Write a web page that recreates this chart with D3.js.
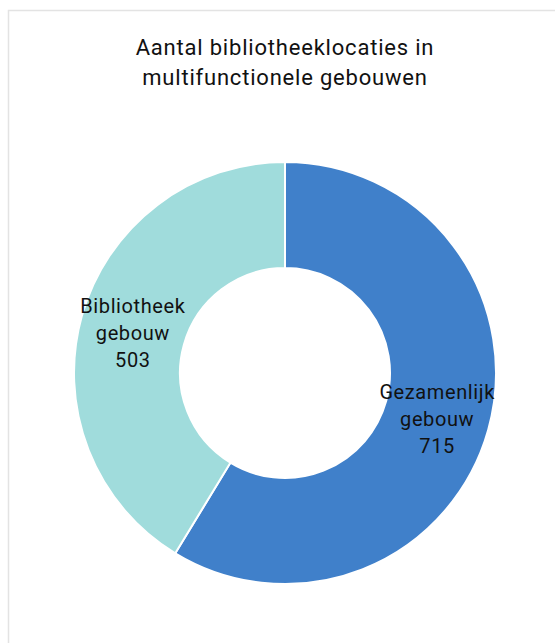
<!DOCTYPE html>
<html>
<head>
<meta charset="utf-8">
<script src="https://cdn.jsdelivr.net/npm/d3@7"></script>
<style>
  body { margin: 0; background: #fff; }
  text { font-family: Roboto, "DejaVu Sans", sans-serif; fill: #111; }
</style>
</head>
<body>
<script>
var categories = ["Gezamenlijk gebouw", "Bibliotheek gebouw"];
var labelLines = [["Gezamenlijk", "gebouw"], ["Bibliotheek", "gebouw"]];
var values = [715, 503];
var colors = ["#4080ca", "#a0dcdc"];
var titleLines = ["Aantal bibliotheeklocaties in", "multifunctionele gebouwen"];

var width = 555, height = 643;
var cx = 285, cy = 373, outerR = 211, innerR = 105;

var svg = d3.select("body")
    .append("svg")
    .attr("width", width)
    .attr("height", height);

// frame
svg.append("rect")
    .attr("x", 8.5)
    .attr("y", 10.5)
    .attr("width", 600)
    .attr("height", 700)
    .attr("fill", "none")
    .attr("stroke", "#e3e3e3")
    .attr("stroke-width", 1.5);

svg.selectAll("text.title")
    .data(titleLines)
    .enter().append("text")
    .attr("class", "title")
    .attr("x", cx)
    .attr("y", function(d, i) { return 55 + i * 30; })
    .attr("text-anchor", "middle")
    .style("font-size", "22px")
    .style("letter-spacing", "0.8px")
    .text(function(d) { return d; });

var pie = d3.pie().sort(null).value(function(d) { return d; });
var arc = d3.arc().innerRadius(innerR).outerRadius(outerR);
var labelArc = d3.arc().innerRadius((innerR + outerR) / 2).outerRadius((innerR + outerR) / 2);

var g = svg.append("g")
    .attr("transform", "translate(" + cx + "," + cy + ")");

var arcs = pie(values);

g.selectAll("path")
    .data(arcs)
    .enter().append("path")
    .attr("d", arc)
    .attr("fill", function(d, i) { return colors[i]; })
    .attr("stroke", "#fff")
    .attr("stroke-width", 2);

var labels = g.selectAll("g.label")
    .data(arcs)
    .enter().append("g")
    .attr("class", "label")
    .attr("transform", function(d) { return "translate(" + labelArc.centroid(d) + ")"; });

labels.each(function(d, i) {
    var lines = labelLines[i].concat([String(values[i])]);
    d3.select(this).selectAll("text")
        .data(lines)
        .enter().append("text")
        .attr("text-anchor", "middle")
        .attr("y", function(l, j) { return (j - 1) * 27 + 10; })
        .style("font-size", "20px")
        .style("letter-spacing", "0.6px")
        .text(function(l) { return l; });
});
</script>
</body>
</html>
